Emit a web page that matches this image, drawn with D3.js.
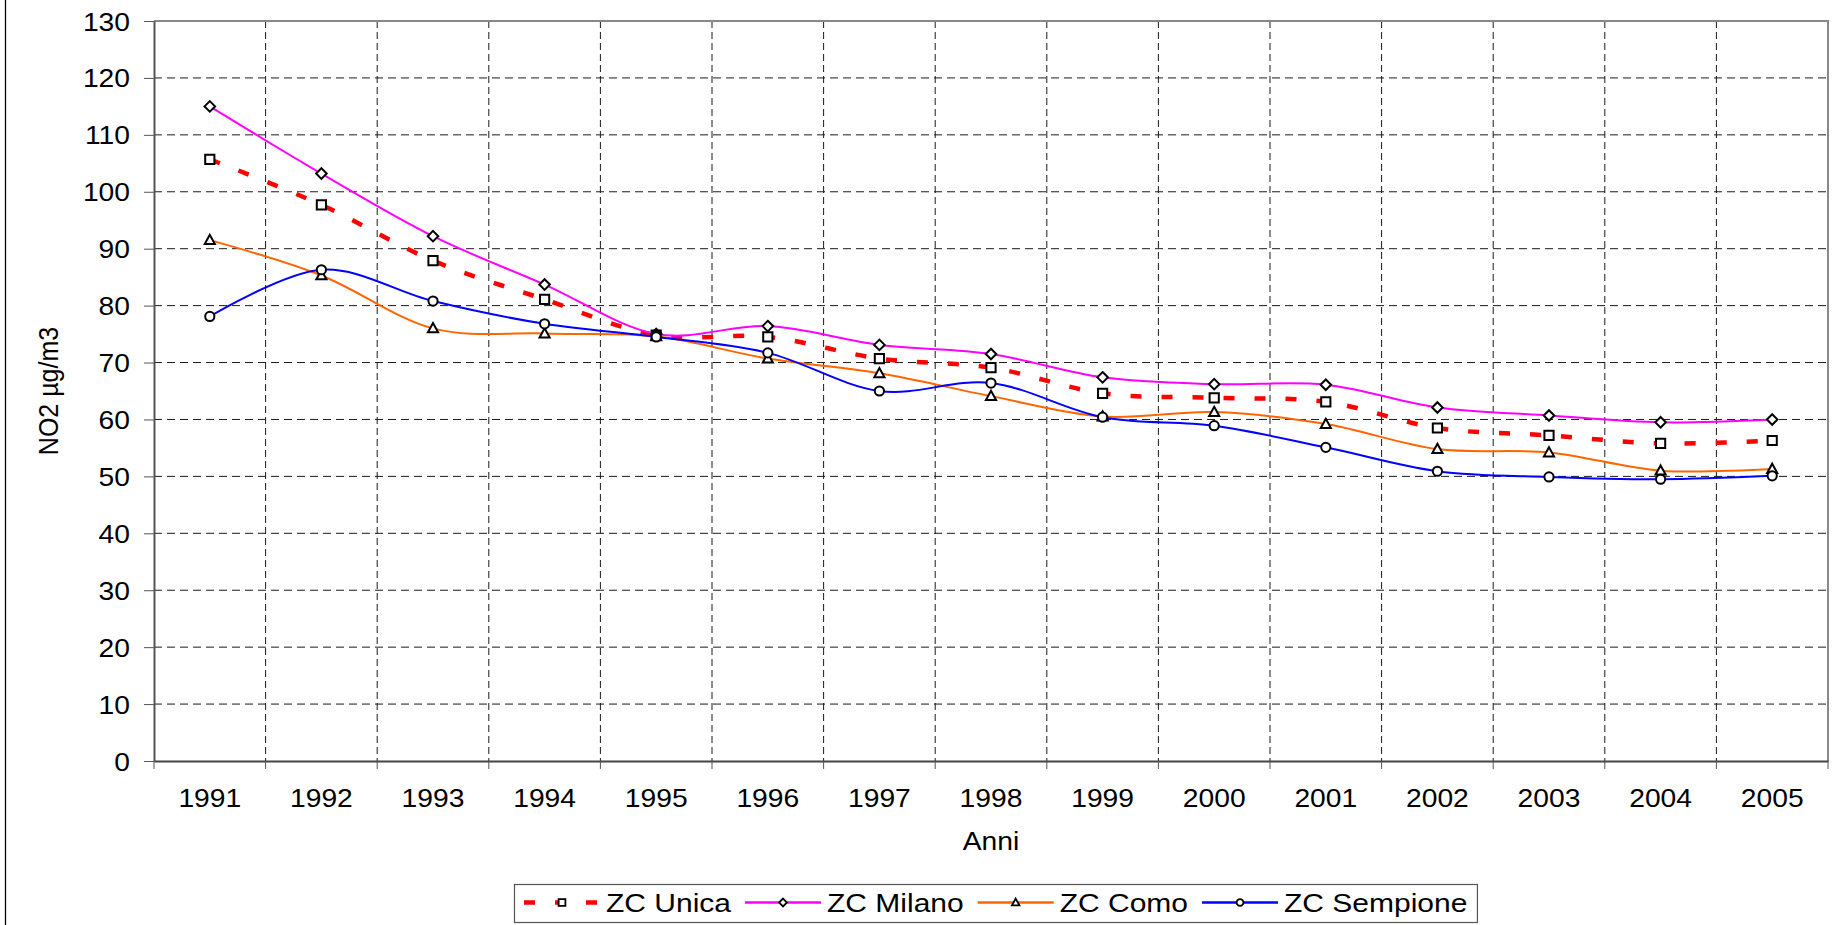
<!DOCTYPE html>
<html>
<head>
<meta charset="utf-8">
<script src="https://cdn.jsdelivr.net/npm/d3@7"></script>
<style>
  body { margin: 0; background: #fff; }
  text { font-family: "Liberation Sans", Arial, sans-serif; font-size: 25px; fill: #000; }
</style>
</head>
<body>
<div class="chart"></div>
<script>
// values
var years = ['1991', '1992', '1993', '1994', '1995', '1996', '1997', '1998',
             '1999', '2000', '2001', '2002', '2003', '2004', '2005'];
var zcUnica    = [105.7, 97.7, 87.9, 81.1, 74.8, 74.5, 70.7, 69.1, 64.6, 63.8, 63.1, 58.5, 57.2, 55.8, 56.3];
var zcMilano   = [115.0, 103.2, 92.2, 83.7, 75.0, 76.4, 73.1, 71.5, 67.4, 66.2, 66.1, 62.1, 60.7, 59.5, 60.0];
var zcComo     = [91.5, 85.3, 76.0, 75.1, 74.6, 70.7, 68.1, 64.1, 60.5, 61.3, 59.2, 54.8, 54.2, 51.0, 51.3];
var zcSempione = [78.1, 86.3, 80.8, 76.8, 74.5, 71.7, 65.0, 66.4, 60.4, 58.9, 55.1, 50.9, 49.9, 49.5, 50.1];
var yTicks = [0, 10, 20, 30, 40, 50, 60, 70, 80, 90, 100, 110, 120, 130];

var series = [
  {name: 'ZC Unica',    values: zcUnica,    color: '#ff0000', width: 4.5, dash: '11,20', marker: 'square'},
  {name: 'ZC Milano',   values: zcMilano,   color: '#ff00ff', width: 2,   dash: null,    marker: 'diamond'},
  {name: 'ZC Como',     values: zcComo,     color: '#ff6600', width: 2,   dash: null,    marker: 'triangle'},
  {name: 'ZC Sempione', values: zcSempione, color: '#0000ff', width: 2,   dash: null,    marker: 'circle'}
];

var margin = { top: 21, right: 13, bottom: 164, left: 154 },
  width = 1841 - margin.left - margin.right,
  height = 925 - margin.top - margin.bottom,
  stretch = 1.13,      // the picture's text is a bit wider than plain Arial
  legendStretch = 1.2;

var root = d3.select('.chart')
  .append('svg')
    .attr('width', 1841)
    .attr('height', 925);

// the chart frame, only its left edge is inside the picture
root.append('line')
  .attr('x1', 5.5).attr('x2', 5.5)
  .attr('y1', 0).attr('y2', 925)
  .attr('stroke', '#000')
  .attr('stroke-width', 1.3);

var svg = root.append('g')
  .attr('transform', `translate(${margin.left}, ${margin.top})`);

var xScale = d3.scaleBand()
  .domain(years)
  .range([0, width])
  .padding(0);

var yScale = d3.scaleLinear()
  .domain([0, 130])
  .range([height, 0]);

var cx = (d, i) => xScale(years[i]) + xScale.bandwidth() / 2;

// grid
svg.append('g')
  .attr('class', 'grid-h')
  .selectAll('line')
  .data(yTicks.filter(t => t > 0 && t < 130))
  .enter()
  .append('line')
    .attr('x1', 0).attr('x2', width)
    .attr('y1', d => yScale(d)).attr('y2', d => yScale(d))
    .attr('stroke', '#1a1a1a')
    .attr('stroke-dasharray', '8,5');

svg.append('g')
  .attr('class', 'grid-v')
  .selectAll('line')
  .data(years.slice(1))
  .enter()
  .append('line')
    .attr('x1', d => xScale(d)).attr('x2', d => xScale(d))
    .attr('y1', 0).attr('y2', height)
    .attr('stroke', '#1a1a1a')
    .attr('stroke-dasharray', '7,4');

// top and right border
svg.append('path')
  .attr('d', `M0,0H${width}V${height}`)
  .attr('fill', 'none')
  .attr('stroke', '#888')
  .attr('stroke-width', 2);

// y axis
var yAxis = d3.axisLeft(yScale)
  .tickValues(yTicks)
  .tickSize(10)
  .tickSizeOuter(0)
  .tickFormat(d3.format('d'));

var gY = svg.append('g')
  .attr('class', 'y-axis')
  .call(yAxis);
gY.select('.domain').attr('stroke', '#555').attr('stroke-width', 2);
gY.selectAll('.tick line').attr('stroke', '#555');
gY.selectAll('.tick text')
  .attr('x', 0)
  .attr('dy', '0.36em')
  .attr('transform', `translate(-24, 0) scale(${stretch}, 1)`)
  .style('font-size', '25px')
  .style('font-family', '"Liberation Sans", Arial, sans-serif')
  .attr('fill', '#000');

// x axis: labels in the middle of each year, ticks on the boundaries
var xAxis = d3.axisBottom(xScale)
  .tickSize(0)
  .tickSizeOuter(0);

var gX = svg.append('g')
  .attr('class', 'x-axis')
  .attr('transform', `translate(0, ${height})`)
  .call(xAxis);
gX.select('.domain').attr('stroke', '#444').attr('stroke-width', 2);
gX.selectAll('.tick text')
  .attr('y', 0)
  .attr('dy', null)
  .attr('transform', `translate(0, 46) scale(${stretch}, 1)`)
  .style('font-size', '25px')
  .style('font-family', '"Liberation Sans", Arial, sans-serif')
  .attr('fill', '#000');

gX.selectAll('.bound')
  .data(d3.range(years.length + 1))
  .enter()
  .append('line')
    .attr('class', 'bound')
    .attr('x1', d => d * xScale.step()).attr('x2', d => d * xScale.step())
    .attr('y1', 0).attr('y2', 8)
    .attr('stroke', '#555');

// axis titles
svg.append('text')
  .attr('transform', `translate(${width / 2}, ${height + 89}) scale(${stretch}, 1)`)
  .style('text-anchor', 'middle')
  .text('Anni');

svg.append('text')
  .attr('transform', `translate(${58 - margin.left}, ${height / 2}) scale(${stretch}, 1) rotate(-90)`)
  .style('text-anchor', 'middle')
  .text('NO2 µg/m3');

// marker shapes around 0,0
function markerPath(type, s) {
  if (type === 'square') return `M${-s},${-s}h${2 * s}v${2 * s}h${-2 * s}Z`;
  if (type === 'diamond') return `M0,${-s * 1.15}L${s * 1.15},0L0,${s * 1.15}L${-s * 1.15},0Z`;
  if (type === 'triangle') return `M0,${-s * 1.15}L${s * 1.1},${s * 0.85}L${-s * 1.1},${s * 0.85}Z`;
  return d3.arc()({innerRadius: 0, outerRadius: s, startAngle: 0, endAngle: 2 * Math.PI});
}

// lines and markers
var line = d3.line()
  .x(cx)
  .y(d => yScale(d))
  .curve(d3.curveCatmullRom.alpha(0));

var content = svg.append('g').attr('class', 'content');

series.forEach(s => {
  var g = content.append('g').attr('class', 'series');

  g.append('path')
    .datum(s.values)
    .attr('d', line)
    .attr('fill', 'none')
    .attr('stroke', s.color)
    .attr('stroke-width', s.width)
    .attr('stroke-dasharray', s.dash);

  g.selectAll('.marker')
    .data(s.values)
    .enter()
    .append('path')
      .attr('class', 'marker')
      .attr('transform', (d, i) => `translate(${cx(d, i)}, ${yScale(d)})`)
      .attr('d', markerPath(s.marker, 4.6))
      .attr('fill', '#fff')
      .attr('stroke', '#000')
      .attr('stroke-width', 2);
});

// legend
var legend = root.append('g').attr('class', 'legend');

var legendBox = legend.append('rect')
  .attr('x', 514.5).attr('y', 884.5)
  .attr('height', 38)
  .attr('fill', '#fff')
  .attr('stroke', '#555')
  .attr('stroke-width', 1.2);

var lx = 524, ly = 902.5;
series.forEach(s => {
  var item = legend.append('g');

  item.append('line')
    .attr('x1', lx).attr('x2', lx + 76)
    .attr('y1', ly).attr('y2', ly)
    .attr('stroke', s.color)
    .attr('stroke-width', s.dash ? 4.5 : 2.5)
    .attr('stroke-dasharray', s.dash);

  item.append('path')
    .attr('transform', `translate(${lx + 38}, ${ly})`)
    .attr('d', markerPath(s.marker, 3.4))
    .attr('fill', '#fff')
    .attr('stroke', '#000')
    .attr('stroke-width', 1.8);

  var t = item.append('text')
    .attr('transform', `translate(${lx + 82}, ${ly + 9.5}) scale(${legendStretch}, 1)`)
    .text(s.name);

  lx += 82 + t.node().getComputedTextLength() * legendStretch + 14;
});

legendBox.attr('width', lx - 14 + 10 - 514.5);
</script>
</body>
</html>
